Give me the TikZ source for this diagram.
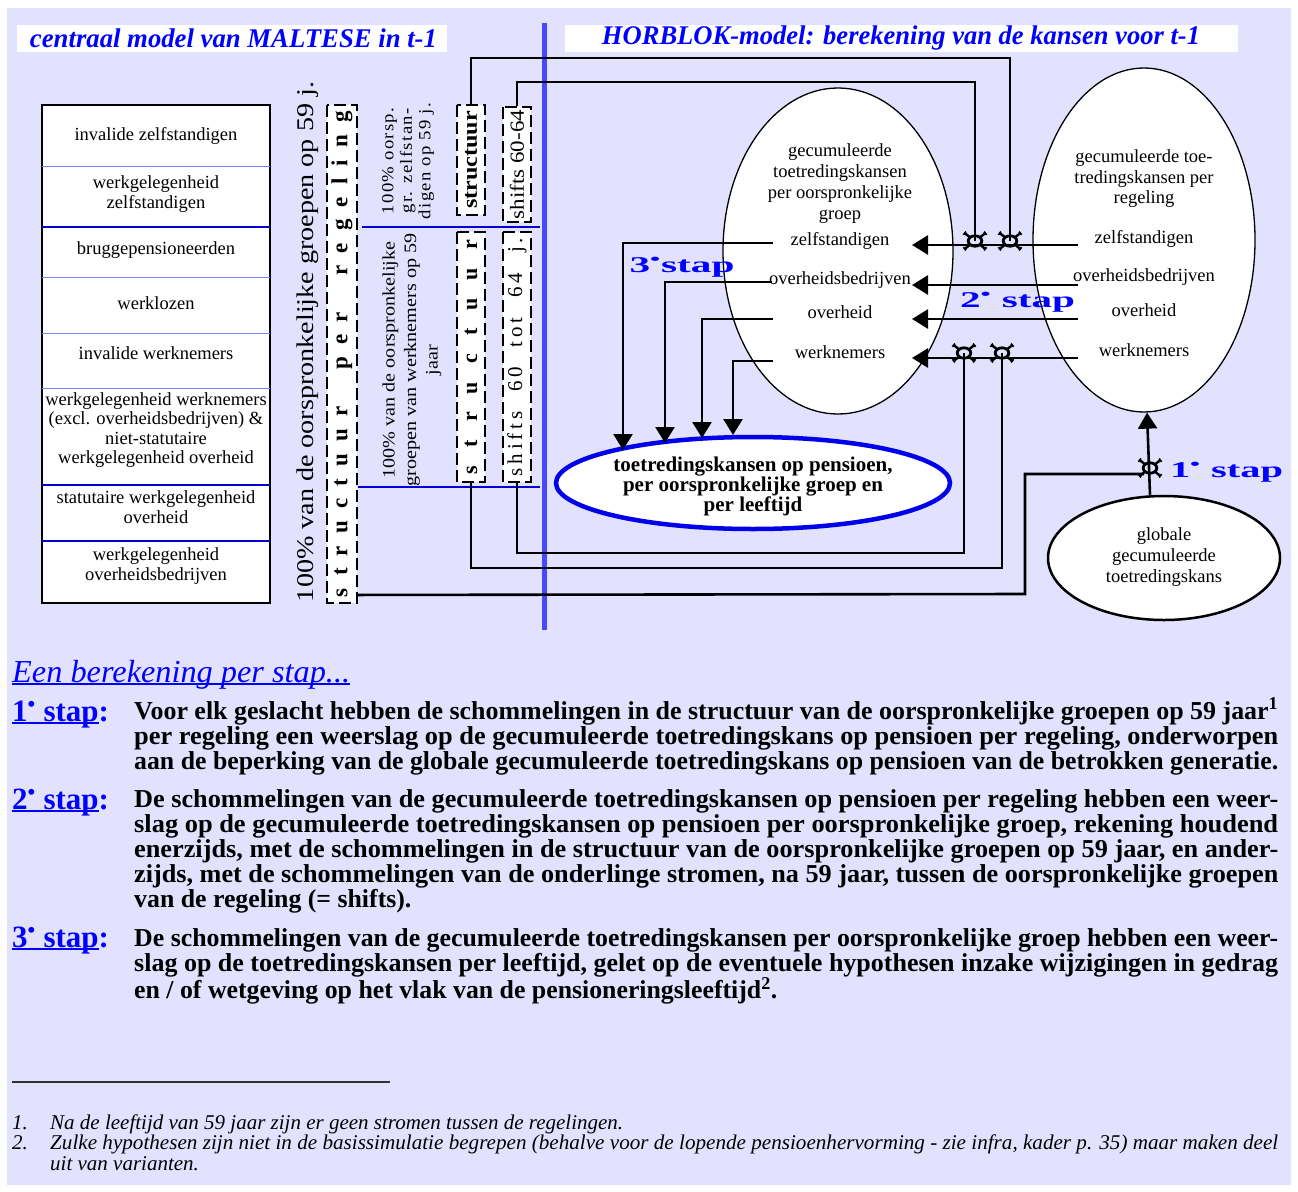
\documentclass[tikz,border=0pt]{standalone}
\usepackage{fontspec}
\usepackage{graphicx}
\setmainfont{Liberation Serif}
\newfontfamily\stretchv[FakeStretch=1.15]{Liberation Serif}
\newfontfamily\lsv[FakeStretch=1.1,LetterSpace=8]{Liberation Serif}
\newfontfamily\lsb[LetterSpace=18]{Liberation Serif}
\usetikzlibrary{arrows.meta,shapes.geometric}
\definecolor{lav}{RGB}{226,226,255}
\definecolor{pblue}{RGB}{0,0,255}
\definecolor{divblue}{RGB}{72,72,255}
\definecolor{lightdiv}{RGB}{130,130,255}
\definecolor{darkdiv}{RGB}{0,0,215}
\definecolor{ellblue}{RGB}{0,0,235}
\definecolor{rulegray}{RGB}{50,50,50}
\newcommand\ulb[1]{\setbox0=\hbox{#1}\rlap{\rule[-2.5pt]{\wd0}{1.8pt}}\box0}
\newcommand\dotsup{\textsuperscript{•}}
\newcommand\bodyfont{\bfseries\fontsize{25.8}{25}\selectfont}
\tikzset{
 conn/.style={line width=2.6pt},
 arr/.style={line width=2.6pt, -{Triangle[length=16pt,width=19pt]}},
 dbox/.style={draw, fill=white, line width=1.9pt, dash pattern=on 12pt off 5pt, rotate=90, inner sep=0pt},
 tabtxt/.style={font=\fontsize{18.5}{19.5}\selectfont, align=center, inner sep=0pt},
 elltxt/.style={font=\fontsize{18.5}{21}\selectfont, align=center, inner sep=0pt},
 stapl/.style={text=pblue, font=\bfseries\fontsize{22.5}{24}\selectfont, inner sep=0pt},
 knot/.pic={
   \draw[line width=2.8pt] (0,0) ellipse (6.8 and 5.2);
   \foreach \sx in {-1,1} \foreach \sy in {-1,1} {
     \draw[line width=2.4pt, line cap=round] ({\sx*5},{\sy*3.8}) -- ({\sx*10},{\sy*7.6});
     \draw[line width=1.8pt] ({\sx*9},{\sy*9.4}) -- ({\sx*11.6},{\sy*6.2});
   }
 }
}
\begin{document}
\begin{tikzpicture}[x=1pt,y=-1pt]
\useasboundingbox (0,0) rectangle (1298,1191);
\fill[white] (0,0) rectangle (1298,1191);
\fill[lav] (7,8) rectangle (1291,1185);

% titles
\node[fill=white, minimum width=430, minimum height=27, inner sep=0] (t1box) at (232,38.5) {};
\node[text=pblue, font=\bfseries\itshape\fontsize{27}{28}\selectfont, inner sep=0] (t1) at (233.5,38) {\resizebox{407pt}{\height}{centraal model van MALTESE in t-1}};
\node[fill=white, minimum width=673, minimum height=27, inner sep=0] (t2box) at (901.5,38.5) {};
\node[text=pblue, font=\bfseries\itshape\fontsize{27}{28}\selectfont, inner sep=0] (t2) at (901,38) {\resizebox{598pt}{\height}{HORBLOK-model: berekening van de kansen voor t-1}};

% divider
\draw[divblue, line width=5pt] (544,23) -- (544,630);

% left table
\node[draw, line width=1.2pt, fill=white, minimum width=228, minimum height=498, inner sep=0] (tab) at (156,354) {};
\foreach \yy in {166,277,333,388} \draw[lightdiv, line width=1pt] (42,\yy) -- (270,\yy);
\foreach \yy in {227,485,541} \draw[darkdiv, line width=1.8pt] (42,\yy) -- (270,\yy);
\node[tabtxt] (r1) at (156,136) {invalide zelfstandigen};
\node[tabtxt] (r2) at (156,194) {werkgelegenheid\\zelfstandigen};
\node[tabtxt] (r3) at (156,250) {bruggepensioneerden};
\node[tabtxt] (r4) at (156,303) {werklozen};
\node[tabtxt] (r5) at (156,353) {invalide werknemers};
\node[tabtxt] (r6) at (156,430) {werkgelegenheid werknemers\\(excl. overheidsbedrijven) \&\\niet-statutaire\\werkgelegenheid overheid};
\node[tabtxt] (r7) at (156,507) {statutaire werkgelegenheid\\overheid};
\node[tabtxt] (r8) at (156,566) {werkgelegenheid\\overheidsbedrijven};

% vertical texts
\node[font=\fontsize{24}{26}\selectfont, rotate=90, inner sep=0] (v1) at (307.5,342) {\resizebox{520pt}{\height}{100\% van de oorspronkelijke groepen op 59 j.}};
\node[dbox, minimum width=498, minimum height=30, font=\bfseries\fontsize{23}{24}\selectfont] (sreg) at (342,354) {\makebox[486pt][s]{s\hfill t\hfill r\hfill u\hfill c\hfill t\hfill u\hfill u\hfill r\hfill\hfill\hfill p\hfill e\hfill r\hfill\hfill\hfill r\hfill e\hfill g\hfill e\hfill l\hfill i\hfill n\hfill g}};
\node[font=\lsv\fontsize{17}{18.5}\selectfont, rotate=90, align=center, inner sep=0] (v2) at (408,161) {100\% oorsp.\\gr. zelfstan-\\digen op 59 j.};
\node[font=\stretchv\fontsize{17.5}{21.5}\selectfont, rotate=90, align=center, inner sep=0] (v3) at (412,360) {100\% van de oorspronkelijke\\groepen van werknemers op 59\\jaar};
\draw[darkdiv, line width=1.6pt] (362,227) -- (540,227);
\draw[darkdiv, line width=1.6pt] (358,487) -- (540,487);

\node[dbox, minimum width=110, minimum height=28, font=\stretchv\bfseries\fontsize{21}{22}\selectfont] (stA) at (471,160) {structuur};
\node[dbox, minimum width=115, minimum height=28, font=\stretchv\fontsize{20}{22}\selectfont] (shA) at (517,164.5) {shifts 60-64};
\node[dbox, minimum width=250, minimum height=28, font=\bfseries\fontsize{22}{23}\selectfont] (stB) at (471,357) {\makebox[234pt][s]{s\hfill t\hfill r\hfill u\hfill c\hfill t\hfill u\hfill u\hfill r}};
\node[dbox, minimum width=250, minimum height=28, font=\lsb\fontsize{21}{22}\selectfont] (shB) at (517,357) {\makebox[238pt][s]{shifts\hfill 60\hfill tot\hfill 64\hfill j.}};

% ellipses
\node[ellipse, draw, fill=white, line width=1.3pt, minimum width=230, minimum height=326, inner sep=0] (mid) at (838,251) {};
\node[ellipse, draw, fill=white, line width=1.3pt, minimum width=222, minimum height=344, inner sep=0] (reg) at (1144,240) {};
\node[ellipse, draw, fill=white, line width=2.5pt, minimum width=232, minimum height=124, inner sep=0] (glob) at (1164,558) {};
\node[ellipse, draw=ellblue, fill=white, line width=4.5pt, minimum width=394, minimum height=92, inner sep=0] (pens) at (753,483) {};

% coordinates for connectors
\coordinate (k1) at (1010,241);
\coordinate (k2) at (975,241);
\coordinate (k3) at (964,353);
\coordinate (k4) at (1002,353);
\coordinate (k5) at (1150,468);
\coordinate (c1) at (1010,58);
\coordinate (c2) at (975,82);
\coordinate (c3) at (1002,568);
\coordinate (c4) at (964,553);
\coordinate (c5) at (1025,594);
\coordinate (c6) at (1025,474);
\coordinate (c7) at (1144,474);

% connectors from structure boxes
\draw[conn] (stA.east) |- (c1) -- (k1);
\draw[conn] (shA.east) |- (c2) -- (k2);
\draw[conn] (stB.west) |- (c3) -- (k4);
\draw[conn] (shB.west) |- (c4) -- (k3);
\draw[conn] ([yshift=9pt]sreg.south west) -- (c5) -- (c6) -- (c7);

% step 2 arrows (right to middle)
\coordinate (a1s) at (1078,245); \coordinate (a1t) at (912,245);
\coordinate (a2s) at (1078,285); \coordinate (a2t) at (912,285);
\coordinate (a3s) at (1078,319); \coordinate (a3t) at (912,319);
\coordinate (a4s) at (1078,358); \coordinate (a4t) at (912,358);
\draw[arr] (a1s) -- (a1t);
\draw[arr] (a2s) -- (a2t);
\draw[arr] (a3s) -- (a3t);
\draw[arr] (a4s) -- (a4t);

% step 3 arrows (middle to pens)
\coordinate (b1s) at (773,243); \coordinate (b1t) at (623,450);
\coordinate (b2s) at (772,282); \coordinate (b2t) at (665,443);
\coordinate (b3s) at (773,319); \coordinate (b3t) at (702,438);
\coordinate (b4s) at (773,361); \coordinate (b4t) at (733,435);
\draw[arr] (b1s) -| (b1t);
\draw[arr] (b2s) -| (b2t);
\draw[arr] (b3s) -| (b3t);
\draw[arr] (b4s) -| (b4t);

% step 1 arrow
\draw[arr] ([xshift=-14pt]glob.north) -- ([xshift=3pt]reg.south);

% knots
\pic at (k1) {knot};
\pic at (k2) {knot};
\pic at (k3) {knot};
\pic at (k4) {knot};
\pic at (k5) {knot};

% ellipse texts
\node[elltxt] (mtitle) at (840,184) {gecumuleerde\\toetredingskansen\\per oorspronkelijke\\groep};
\node[elltxt] (mz) at (840,241) {zelfstandigen};
\node[elltxt] (mob) at (840,280) {overheidsbedrijven};
\node[elltxt] (mo) at (840,312) {overheid};
\node[elltxt] (mw) at (840,352) {werknemers};
\node[elltxt, font=\fontsize{18.5}{20.5}\selectfont] (rtitle) at (1144,179) {gecumuleerde toe-\\tredingskansen per\\regeling};
\node[elltxt] (rz) at (1144,239) {zelfstandigen};
\node[elltxt] (rob) at (1144,277) {overheidsbedrijven};
\node[elltxt] (ro) at (1144,310) {overheid};
\node[elltxt] (rw) at (1144,350) {werknemers};
\node[elltxt] (gtxt) at (1164,557) {globale\\gecumuleerde\\toetredingskans};
\node[align=center, inner sep=0, font=\bfseries\fontsize{21}{20}\selectfont] (ptxt) at (753,486) {toetredingskansen op pensioen,\\per oorspronkelijke groep en\\per leeftijd};

% step labels
\node[stapl] (s3) at (682,267) {\resizebox{105pt}{\height}{3\dotsup stap}};
\node[stapl] (s2) at (1017.5,302) {\resizebox{115pt}{\height}{2\dotsup\ stap}};
\node[stapl] (s1) at (1226.5,472) {\resizebox{113pt}{\height}{1\dotsup\ stap}};

% lower text
\node[anchor=base west, inner sep=0, text=pblue, font=\itshape\fontsize{32}{34}\selectfont] (head) at (12,682) {\ulb{\resizebox{338pt}{\height}{Een berekening per stap...}}};

\node[anchor=base west, inner sep=0, text=pblue, font=\bfseries\fontsize{31}{32}\selectfont] (l1) at (12,721) {\ulb{1\dotsup\ stap}:};
\node[anchor=base west, inner sep=0, text=pblue, font=\bfseries\fontsize{31}{32}\selectfont] (l2) at (12,809) {\ulb{2\dotsup\ stap}:};
\node[anchor=base west, inner sep=0, text=pblue, font=\bfseries\fontsize{31}{32}\selectfont] (l3) at (12,947) {\ulb{3\dotsup\ stap}:};

\node[anchor=base west, inner sep=0] (p1) at (134,719) {\vtop{\hsize=1144pt\parindent=0pt\bodyfont\baselineskip=25pt
\resizebox{\hsize}{\height}{Voor elk geslacht hebben de schommelingen in de structuur van de oorspronkelijke groepen op 59 jaar\textsuperscript{1}}\par
\resizebox{\hsize}{\height}{per regeling een weerslag op de gecumuleerde toetredingskans op pensioen per regeling, onderworpen}\par
\resizebox{\hsize}{\height}{aan de beperking van de globale gecumuleerde toetredingskans op pensioen van de betrokken generatie.}\par}};

\node[anchor=base west, inner sep=0] (p2) at (134,807) {\vtop{\hsize=1144pt\parindent=0pt\bodyfont\baselineskip=25.2pt
\resizebox{\hsize}{\height}{De schommelingen van de gecumuleerde toetredingskansen op pensioen per regeling hebben een weer-}\par
\resizebox{\hsize}{\height}{slag op de gecumuleerde toetredingskansen op pensioen per oorspronkelijke groep, rekening houdend}\par
\resizebox{\hsize}{\height}{enerzijds, met de schommelingen in de structuur van de oorspronkelijke groepen op 59 jaar, en ander-}\par
\resizebox{\hsize}{\height}{zijds, met de schommelingen van de onderlinge stromen, na 59 jaar, tussen de oorspronkelijke groepen}\par
van de regeling (= shifts).\par}};

\node[anchor=base west, inner sep=0] (p3) at (134,946) {\vtop{\hsize=1144pt\parindent=0pt\bodyfont\baselineskip=25pt
\resizebox{\hsize}{\height}{De schommelingen van de gecumuleerde toetredingskansen per oorspronkelijke groep hebben een weer-}\par
\resizebox{\hsize}{\height}{slag op de toetredingskansen per leeftijd, gelet op de eventuele hypothesen inzake wijzigingen in gedrag}\par
en / of wetgeving op het vlak van de pensioneringsleeftijd\textsuperscript{2}.\par}};

% footnotes
\draw[rulegray, line width=1.5pt] (12,1082) -- (390,1082);
\node[anchor=base west, inner sep=0, font=\itshape\fontsize{21}{20.5}\selectfont] (f1n) at (12,1129) {1.};
\node[anchor=base west, inner sep=0, font=\itshape\fontsize{21}{20.5}\selectfont] (f2n) at (12,1149.5) {2.};
\node[anchor=base west, inner sep=0] (fn) at (50,1129) {\vtop{\hsize=1228pt\parindent=0pt\itshape\fontsize{21}{20.5}\selectfont\baselineskip=20.5pt
Na de leeftijd van 59 jaar zijn er geen stromen tussen de regelingen.\par
\resizebox{\hsize}{\height}{Zulke hypothesen zijn niet in de basissimulatie begrepen (behalve voor de lopende pensioenhervorming - zie infra, kader p. 35) maar maken deel}\par
uit van varianten.\par}};
\end{tikzpicture}
\end{document}
